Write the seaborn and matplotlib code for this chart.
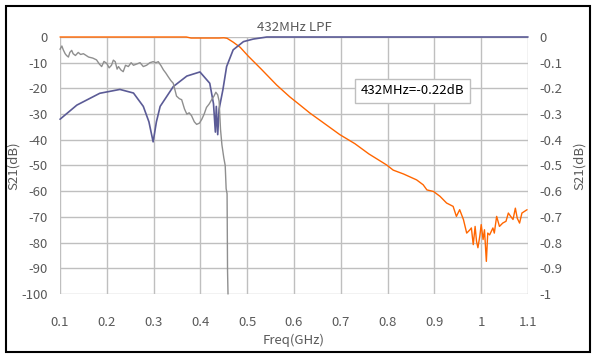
import numpy as np
import pandas as pd
import matplotlib
matplotlib.use("Agg")
import matplotlib.pyplot as plt
import seaborn as sns
from matplotlib.patches import Rectangle

# =========================================
# DATA
# =========================================

# S21 wide range (left axis, dB)
s21_freq = [0.10, 0.20, 0.30, 0.37, 0.38, 0.44, 0.45, 0.457, 0.47, 0.485,
            0.502, 0.53, 0.563, 0.591, 0.613, 0.634, 0.66, 0.698, 0.73, 0.76,
            0.798, 0.812, 0.834, 0.862, 0.876, 0.884, 0.898, 0.912, 0.926, 0.94,
            0.947, 0.954, 0.962, 0.969, 0.976, 0.979, 0.983, 0.987, 0.99, 0.993,
            0.997, 1.0, 1.004, 1.007, 1.011, 1.014, 1.018, 1.025, 1.028, 1.033,
            1.039, 1.046, 1.053, 1.058, 1.063, 1.068, 1.073, 1.077, 1.082, 1.087,
            1.098]
s21_db = [0, 0, 0, 0, -0.4, -0.4, -0.3, -0.5, -2, -4,
          -7.4, -12.5, -18.7, -23.3, -26.5, -29.6, -33, -38, -41.5, -45.5,
          -49.8, -51.8, -53.3, -55.6, -57.5, -59.5, -60.1, -62, -64.6, -65.9,
          -69.8, -67.2, -71, -76.3, -75, -74.3, -80.8, -73.7, -79.5, -82,
          -77.5, -73, -78.8, -75, -87.3, -76.3, -77, -74.3, -76.3, -69.8,
          -73.7, -72.4, -71.7, -68.5, -69.8, -71, -66.6, -70.5, -72.4, -68.5,
          -67.2]

# S11 (left axis, dB)
s11_freq = [0.10, 0.136, 0.185, 0.228, 0.257, 0.278, 0.29, 0.299, 0.306, 0.314,
            0.342, 0.371, 0.399, 0.42, 0.428, 0.432, 0.434, 0.437, 0.44, 0.448,
            0.456, 0.47, 0.492, 0.513, 0.542, 0.60, 0.80, 1.00, 1.10]
s11_db = [-32, -26.5, -21.9, -20.4, -21.8, -27, -33, -40.8, -33, -27,
          -19.3, -15.2, -13.6, -18, -26, -37, -27, -38, -28, -20.6,
          -11.5, -5, -1.8, -0.8, 0, 0, 0, 0, 0]

# S21 passband detail (right axis, dB)
s21_fine_freq = [0.100, 0.104, 0.107, 0.111, 0.114, 0.118, 0.121, 0.125, 0.128, 0.133,
                 0.139, 0.144, 0.150, 0.156, 0.161, 0.170, 0.178, 0.184, 0.189, 0.194,
                 0.200, 0.205, 0.210, 0.214, 0.218, 0.222, 0.225, 0.230, 0.235, 0.240,
                 0.246, 0.252, 0.257, 0.264, 0.271, 0.278, 0.285, 0.292, 0.299, 0.305,
                 0.310, 0.316, 0.321, 0.326, 0.331, 0.337, 0.342, 0.349, 0.355, 0.360,
                 0.366, 0.371, 0.376, 0.381, 0.387, 0.392, 0.398, 0.403, 0.408, 0.413,
                 0.419, 0.424, 0.429, 0.433, 0.437, 0.440, 0.443, 0.446, 0.450, 0.453,
                 0.455, 0.457, 0.458, 0.459]
s21_fine_db = [-0.048, -0.035, -0.050, -0.065, -0.072, -0.078, -0.060, -0.052, -0.065, -0.072,
               -0.060, -0.068, -0.065, -0.072, -0.078, -0.082, -0.089, -0.105, -0.115, -0.095,
               -0.103, -0.120, -0.110, -0.090, -0.096, -0.125, -0.115, -0.128, -0.135, -0.110,
               -0.115, -0.100, -0.110, -0.105, -0.100, -0.115, -0.110, -0.100, -0.096, -0.100,
               -0.096, -0.112, -0.128, -0.140, -0.154, -0.170, -0.180, -0.230, -0.240, -0.244,
               -0.280, -0.300, -0.295, -0.306, -0.330, -0.340, -0.335, -0.320, -0.300, -0.274,
               -0.260, -0.244, -0.230, -0.215, -0.225, -0.250, -0.360, -0.420, -0.470, -0.500,
               -0.590, -0.610, -0.910, -1.0]

x_ticks = [0.1, 0.2, 0.3, 0.4, 0.5, 0.6, 0.7, 0.8, 0.9, 1.0, 1.1]
x_labels = ["0.1", "0.2", "0.3", "0.4", "0.5", "0.6", "0.7", "0.8", "0.9", "1", "1.1"]
left_ticks = [0, -10, -20, -30, -40, -50, -60, -70, -80, -90, -100]
right_ticks = [0, -0.1, -0.2, -0.3, -0.4, -0.5, -0.6, -0.7, -0.8, -0.9, -1]
right_labels = ["0", "-0.1", "-0.2", "-0.3", "-0.4", "-0.5", "-0.6", "-0.7", "-0.8", "-0.9", "-1"]

# =========================================
# STYLE
# =========================================

sns.set_style("white")
plt.rcParams["font.family"] = ["Noto Sans CJK SC", "DejaVu Sans"]

TEXT_COLOR = "#595959"
GRID_COLOR = "#BFBFBF"

fig = plt.figure(figsize=(5.93, 3.58), dpi=100)
ax = fig.add_axes([60 / 593, 1 - 294 / 358, 468 / 593, 257 / 358])
ax2 = ax.twinx()

# =========================================
# LINES
# =========================================

sns.lineplot(x=s21_freq, y=s21_db, ax=ax, color="#FF6600", linewidth=1.0, sort=False)
sns.lineplot(x=s11_freq, y=s11_db, ax=ax, color="#5B5B96", linewidth=1.2, sort=False)
sns.lineplot(x=s21_fine_freq, y=s21_fine_db, ax=ax2, color="#8F8F8F", linewidth=1.0, sort=False)

for line in ax.lines + ax2.lines:
    line.set_clip_on(False)

# =========================================
# AXES
# =========================================

ax.set_xlim(0.1, 1.1)
ax.set_ylim(-100, 0)
ax2.set_ylim(-1, 0)

ax.set_xticks(x_ticks)
ax.set_xticklabels(x_labels)
ax.set_yticks(left_ticks)
ax.set_yticklabels([str(v) for v in left_ticks])
ax2.set_yticks(right_ticks)
ax2.set_yticklabels(right_labels)

ax.grid(True, color=GRID_COLOR, linewidth=1.0)
ax2.grid(False)
ax.set_axisbelow(True)

for a in (ax, ax2):
    for s in a.spines.values():
        s.set_visible(False)

ax.tick_params(axis="x", length=0, pad=16, labelsize=9.5, labelcolor=TEXT_COLOR)
ax.tick_params(axis="y", length=0, pad=9, labelsize=9.5, labelcolor=TEXT_COLOR)
ax2.tick_params(axis="y", length=0, pad=8, labelsize=9.5, labelcolor=TEXT_COLOR)

ax.set_xlabel("Freq(GHz)", fontsize=9.5, color=TEXT_COLOR)
ax.xaxis.set_label_coords(0.5, -0.155)
ax.set_ylabel("S21(dB)", fontsize=9.5, color=TEXT_COLOR)
ax.yaxis.set_label_coords(-0.085, 0.5)
ax2.set_ylabel("S21(dB)", fontsize=9.5, color=TEXT_COLOR, rotation=90)
ax2.yaxis.set_label_coords(1.096, 0.5)

ax.set_title("432MHz LPF", fontsize=9.5, color=TEXT_COLOR, pad=4)

# annotation box
ax.text(0.642, 0.79, "432MHz=-0.22dB", transform=ax.transAxes, fontsize=9.5,
        color="black", ha="left", va="center",
        bbox=dict(boxstyle="square,pad=0.45", facecolor="white",
                  edgecolor=GRID_COLOR, linewidth=1.0))

# outer frame
fig.patches.append(Rectangle((6 / 593, 6 / 358), 584 / 593, 346 / 358,
                             transform=fig.transFigure, fill=False,
                             edgecolor="black", linewidth=1.5))

fig.savefig("out.png", dpi=100)
plt.close(fig)
